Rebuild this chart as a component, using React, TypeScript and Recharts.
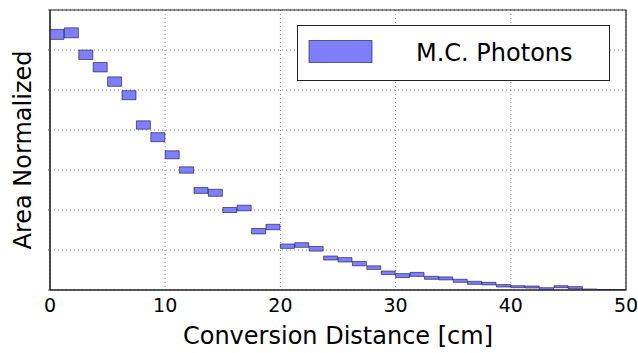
import React from 'react';
import { ComposedChart, Bar, XAxis, YAxis, CartesianGrid, Legend, ReferenceArea, Label } from 'recharts';

const binCenters = [
  0.625, 1.875, 3.125, 4.375, 5.625, 6.875, 8.125, 9.375, 10.625, 11.875,
  13.125, 14.375, 15.625, 16.875, 18.125, 19.375, 20.625, 21.875, 23.125, 24.375,
  25.625, 26.875, 28.125, 29.375, 30.625, 31.875, 33.125, 34.375, 35.625, 36.875,
  38.125, 39.375, 40.625, 41.875, 43.125, 44.375, 45.625, 46.875, 48.125, 49.375,
];

const areaValues = [
  0.0639, 0.0643, 0.0588, 0.0557, 0.0521, 0.0487, 0.04125, 0.0382, 0.0338, 0.03,
  0.0249, 0.0243, 0.02, 0.0205, 0.0147, 0.01575, 0.01095, 0.01125, 0.0103, 0.008,
  0.00755, 0.0066, 0.0056, 0.0043, 0.0036, 0.0039, 0.00305, 0.0029, 0.0023, 0.0018,
  0.0016, 0.00105, 0.00083, 0.00075, 0.00033, 0.00083, 0.00055, 0.00005, 0.0, 0.0,
];

const areaErrors = [
  0.00125, 0.00125, 0.00118, 0.00118, 0.00118, 0.00113, 0.00105, 0.00113, 0.001, 0.0008,
  0.00075, 0.00088, 0.00063, 0.0007, 0.00068, 0.00068, 0.00055, 0.00058, 0.00058, 0.0005,
  0.00055, 0.00055, 0.00045, 0.00045, 0.0005, 0.0005, 0.00038, 0.00038, 0.00038, 0.00038,
  0.00033, 0.0003, 0.00025, 0.00025, 0.00025, 0.00025, 0.0003, 0.0002, 0.00013, 0.00008,
];

const xTicks = [0, 10, 20, 30, 40, 50];
const yTicks = [0, 0.01, 0.02, 0.03, 0.04, 0.05, 0.06, 0.07];
const seriesName = 'M.C. Photons';
const xLabel = 'Conversion Distance [cm]';
const yLabel = 'Area Normalized';

const data = binCenters.map((b, i) => ({
  x: b,
  range: [Math.max(0, areaValues[i] - areaErrors[i]), areaValues[i] + areaErrors[i]],
}));

const FONT = '"DejaVu Sans", sans-serif';
const FILL = '#7f7ffe';
const EDGE = 'rgba(0,0,40,0.55)';

const LegendBox = () => (
  <div style={{ width: 313, height: 56, boxSizing: 'border-box', border: '1.5px solid #222', background: '#fff' }}>
    <svg width={310} height={53} style={{ display: 'block' }}>
      <rect x={11} y={14.5} width={63} height={22} fill={FILL} stroke={EDGE} strokeWidth={1} />
      <text x={118} y={35} fontFamily={FONT} fontSize={24} fill="#000">{seriesName}</text>
    </svg>
  </div>
);

export default function App() {
  return (
    <div style={{ position: 'absolute', left: 0, top: 0, fontFamily: FONT }}>
      <ComposedChart
        width={638}
        height={353}
        data={data}
        margin={{ top: 10, right: 12, left: 0, bottom: 0 }}
        barCategoryGap={0}
        barGap={0}
      >
        <CartesianGrid stroke="#888" strokeDasharray="1 3" />
        <XAxis
          dataKey="x"
          type="number"
          domain={[0, 50]}
          ticks={xTicks}
          allowDataOverflow
          height={63}
          tickLine={false}
          tickSize={4}
          tickMargin={5}
          axisLine={{ stroke: '#222' }}
          tick={{ fontSize: 19, fill: '#000', fontFamily: FONT }}
        >
          <Label value={xLabel} position="center" dy={14} style={{ fontSize: 24, fill: '#000', fontFamily: FONT }} />
        </XAxis>
        <YAxis
          type="number"
          domain={[0, 0.07]}
          ticks={yTicks}
          allowDataOverflow
          width={50}
          tickFormatter={() => ''}
          tick={{ fontSize: 10, fill: '#000' }}
          tickLine={{ stroke: '#555' }}
          tickSize={2}
          axisLine={{ stroke: '#222' }}
        >
          <Label value={yLabel} position="center" angle={-90} dx={-3} style={{ fontSize: 24, fill: '#000', fontFamily: FONT, textAnchor: 'middle' }} />
        </YAxis>
        <Bar
          dataKey="range"
          name={seriesName}
          fill={FILL}
          stroke={EDGE}
          strokeWidth={1}
          isAnimationActive={false}
        />
        <ReferenceArea x1={0} x2={50} y1={0} y2={0.07} fill="none" stroke="#222" strokeWidth={1.2} ifOverflow="visible" />
        <Legend
          layout="vertical"
          align="center"
          verticalAlign="middle"
          content={() => <LegendBox />}
          wrapperStyle={{ position: 'absolute', top: 25, left: 297, width: 313, height: 56 }}
        />
      </ComposedChart>
    </div>
  );
}
